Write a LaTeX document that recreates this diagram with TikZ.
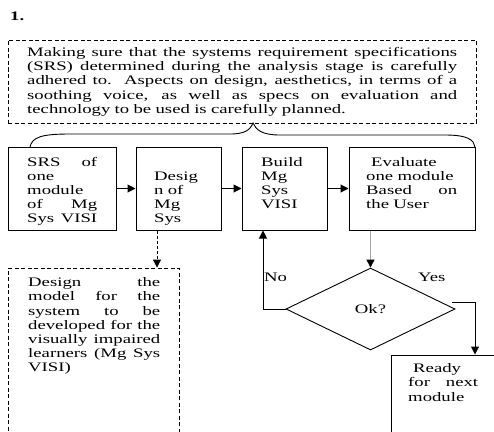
\documentclass[tikz,border=0pt]{standalone}
\usepackage{fontspec}
\setmainfont{Liberation Serif}[FakeStretch=1.44]
\usetikzlibrary{shapes.geometric,arrows.meta}
\newcommand\jl[2]{\leavevmode\hbox to #1pt{\spaceskip=0.3em plus 10em\relax #2}}
\begin{document}
\begin{tikzpicture}[x=1pt,y=-1pt,
  box/.style={draw,line width=1pt,rectangle,inner sep=0},
  dbox/.style={draw,line width=0.9pt,dash pattern=on 4pt off 2.5pt,inner sep=0},
  txt/.style={anchor=base west,inner sep=0,align=left,font=\fontsize{13}{14.2}\selectfont},
  arr/.style={line width=1pt,-{Triangle[length=8pt,width=8pt]}},
]
\clip (0,0) rectangle (494,431);
\fill[white] (0,0) rectangle (494,431);
\node[txt] (num) at (10,20) {\textbf{1.}};
% top dashed box
\node[dbox,minimum width=468,minimum height=83] (tb) at (242,81.5) {};
\node[txt,text width=430] (t0) at (27,56.5) {\jl{430}{Making sure that the systems requirement specifications}\\
\jl{430}{(SRS) determined during the analysis stage is carefully}\\
\jl{430}{adhered to.\ \ Aspects on design, aesthetics, in terms of a}\\
\jl{430}{soothing voice, as well as specs on evaluation and}\\
technology to be used is carefully planned.};
% brace
\coordinate (bl) at (30,147);
\coordinate (bt) at (253,123);
\coordinate (br) at (475,147);
\draw[line width=0.9pt] (bl) .. controls (32,137) and (42,134) .. (70,134) -- (230,134)
  .. controls (245,134) and (250,130) .. (bt)
  .. controls (256,130) and (262,135) .. (280,135) -- (445,135)
  .. controls (468,135) and (474,140) .. (br);
% row of boxes
\node[box,minimum width=108,minimum height=83] (b1) at (62,188.5) {};
\node[box,minimum width=85,minimum height=83] (b2) at (178.5,188.5) {};
\node[box,minimum width=85,minimum height=83] (b3) at (284.5,188.5) {};
\node[box,minimum width=126,minimum height=83] (b4) at (412,188.5) {};
\node[txt,text width=70] (t1) at (27,166) {\jl{70}{SRS of}\\one\\module\\\jl{70}{of Mg}\\\jl{70}{Sys VISI}};
\node[txt,text width=55] (t2) at (154,180) {Desig\\n of\\Mg\\Sys};
\node[txt,text width=55] (t3) at (261,166) {Build\\Mg\\Sys\\VISI};
\node[txt,text width=91] (t4) at (366,166) {\hspace{5pt}Evaluate\\one module\\\jl{91}{Based on}\\the User};
\draw[arr] (b1) -- (b2);
\draw[arr] (b2) -- (b3);
\draw[arr] (b3) -- (b4);
% bottom left dashed box
\node[dbox,minimum width=171,minimum height=182] (dl) at (93.5,359) {};
\node[txt,text width=132] (t5) at (28,286.7) {\jl{132}{Design the}\\\jl{132}{model for the}\\\jl{132}{system to be}\\\jl{132}{developed for the}\\\jl{132}{visually impaired}\\\jl{132}{learners (Mg Sys}\\VISI)};
\coordinate (dx) at (157,0);
\draw[line width=1pt,dash pattern=on 3pt off 2pt,-{Triangle[length=8pt,width=8pt]}] (dx |- b2.south) -- (dx |- dl.north);
% decision
\node[draw,diamond,line width=0.9pt,minimum width=169,minimum height=82,inner sep=0,font=\fontsize{13}{14.2}\selectfont] (ok) at (370.5,309) {Ok?};
\draw[line width=1.3pt,gray!70,-{Triangle[length=8pt,width=8pt,black]}] (ok.north |- b4.south) -- (ok.north);
\coordinate (nx) at (263,0);
\draw[arr] (ok.west) -- (nx |- ok.west) -- (nx |- b3.south);
\node[txt] (no) at (264,281.7) {No};
\node[txt] (yes) at (418,281.7) {Yes};
% ready box
\node[box,minimum width=119,minimum height=95] (rr) at (450.5,402.5) {};
\node[txt,text width=70] (t6) at (408,372.7) {\hspace{5pt}Ready\\\jl{70}{for next}\\module};
\coordinate (ys) at (452,302);
\coordinate (yx) at (475,0);
\draw[arr] (ys) -| (yx |- rr.north);
\end{tikzpicture}
\end{document}
